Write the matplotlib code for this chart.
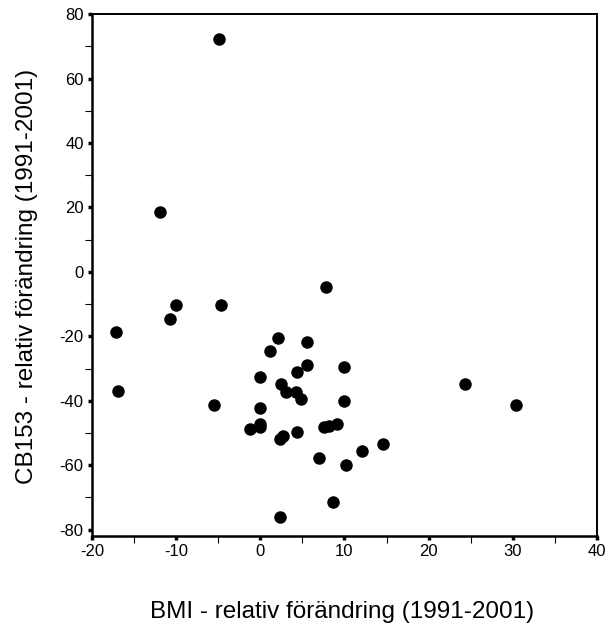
#!/usr/bin/env python3

import matplotlib
matplotlib.use('Agg')
import matplotlib.pyplot as plt
import matplotlib.ticker as tkr

# relative change 1991-2001
bmi = [-4.9, -11.9, 7.8, -17.1, -16.9, -10.7, -10.0, -4.7, -5.5,
       2.1, 1.2, 5.5, 5.5, 4.3, 9.9, 0.0, 2.5, 3.0, 4.2, 4.8, 9.9,
       0.0, -1.2, 0.0, 0.0, 2.3, 2.7, 4.3, 7.6, 8.2, 9.1, 7.0, 10.2,
       12.1, 14.6, 8.6, 2.3, 24.3, 30.4]
cb153 = [72.2, 18.6, -4.7, -18.7, -36.9, -14.6, -10.2, -10.2, -41.2,
         -20.4, -24.7, -21.9, -28.9, -31.0, -29.5, -32.7, -34.7, -37.4, -37.4, -39.6, -40.1,
         -42.3, -48.7, -47.2, -48.2, -51.9, -50.8, -49.7, -48.2, -47.7, -47.1, -57.8, -59.8,
         -55.7, -53.4, -71.5, -76.0, -34.7, -41.2]

plt.rcParams['font.family'] = ['Liberation Sans', 'DejaVu Sans']
plt.rcParams['axes.unicode_minus'] = False

fig = plt.figure(figsize=(6.08, 6.30), dpi=100)
ax = fig.add_axes([0.1513, 0.149, 0.8306, 0.8287])

ax.plot(bmi, cb153, 'o', color='black', markersize=9, markeredgewidth=0)

ax.set_xlim(-20, 40)
ax.set_ylim(-82, 80)
ax.xaxis.set_major_locator(tkr.MultipleLocator(10))
ax.xaxis.set_minor_locator(tkr.MultipleLocator(5))
ax.yaxis.set_major_locator(tkr.MultipleLocator(20))
ax.yaxis.set_minor_locator(tkr.MultipleLocator(10))

ax.tick_params(which='major', direction='out', length=3, width=2.5,
               labelsize=12, pad=3)
ax.tick_params(which='minor', direction='out', length=5, width=0.8)

for side in ['left', 'bottom']:
    ax.spines[side].set_linewidth(1.8)
for side in ['top', 'right']:
    ax.spines[side].set_linewidth(1.4)

ax.set_xlabel('BMI - relativ förändring (1991-2001)', fontsize=17.5, va='center')
ax.set_ylabel('CB153 - relativ förändring (1991-2001)', fontsize=17.5, va='center')
ax.xaxis.set_label_coords(0.495, -0.1456)
ax.yaxis.set_label_coords(-0.1287, 0.498)

fig.savefig('out.png', dpi=100)
